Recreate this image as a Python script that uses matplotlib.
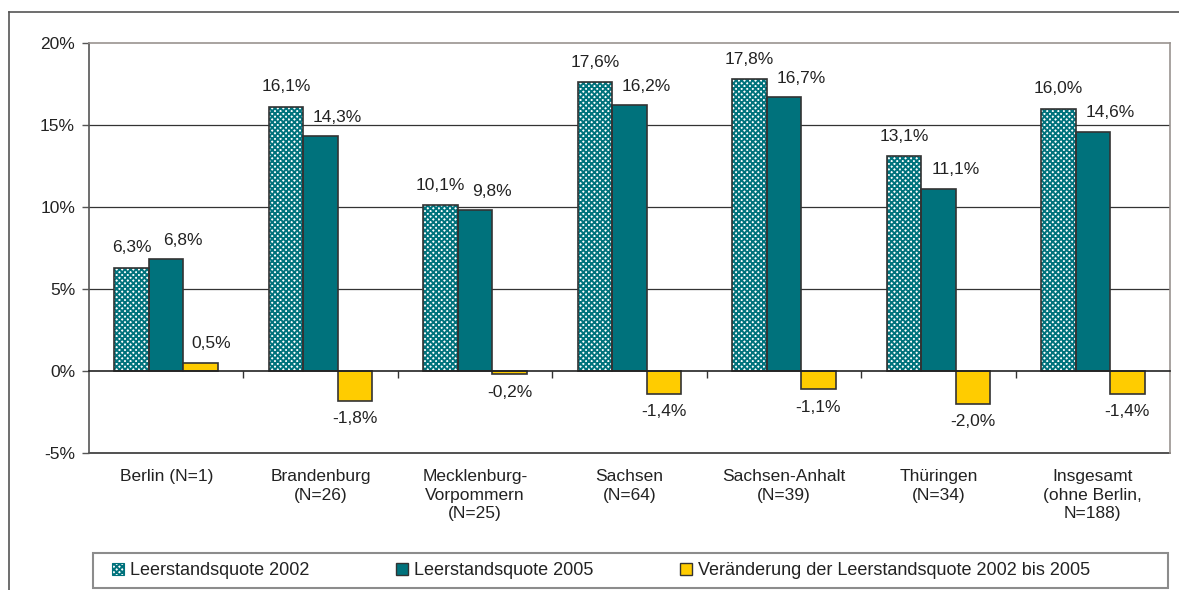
import matplotlib.pyplot as plt
import matplotlib.transforms as mtransforms
from matplotlib.lines import Line2D
from matplotlib.patches import Patch, Rectangle
import numpy as np

plt.rcParams["font.family"] = ["Liberation Sans", "DejaVu Sans"]
plt.rcParams["hatch.linewidth"] = 1.4

categories = [
    "Berlin (N=1)",
    "Brandenburg\n(N=26)",
    "Mecklenburg-\nVorpommern\n(N=25)",
    "Sachsen\n(N=64)",
    "Sachsen-Anhalt\n(N=39)",
    "Thüringen\n(N=34)",
    "Insgesamt\n(ohne Berlin,\nN=188)",
]
quote_2002 = [6.3, 16.1, 10.1, 17.6, 17.8, 13.1, 16.0]
quote_2005 = [6.8, 14.3, 9.8, 16.2, 16.7, 11.1, 14.6]
change = [0.5, -1.8, -0.2, -1.4, -1.1, -2.0, -1.4]
series_names = [
    "Leerstandsquote 2002",
    "Leerstandsquote 2005",
    "Veränderung der Leerstandsquote 2002 bis 2005",
]
yticks = [-5, 0, 5, 10, 15, 20]

teal = "#00727c"
yellow = "#ffcc00"
edge = "#333333"
text_c = "#222222"
fs = 12.5


def pct(v):
    return f"{v:.1f}%".replace(".", ",")


fig = plt.figure(figsize=(11.79, 5.9), dpi=100)
W, H = 1179, 590
ax = fig.add_axes([89 / W, 1 - 453 / H, (1170 - 89) / W, (453 - 43) / H])

x = np.arange(len(categories))
w = 0.2235

# 2002: checkered look via dense hatch
ax.bar(x - w, quote_2002, w, color="white", edgecolor=teal, hatch="xxxxxx",
       linewidth=0, zorder=3)
ax.bar(x - w, quote_2002, w, facecolor="none", edgecolor=edge, linewidth=1.2,
       zorder=4)
ax.bar(x, quote_2005, w, color=teal, edgecolor=edge, linewidth=1.2, zorder=3)
ax.bar(x + w, change, w, color=yellow, edgecolor=edge, linewidth=1.2, zorder=3)

lab = dict(textcoords="offset pixels", ha="center", va="center",
           fontsize=fs, color=text_c)
for xi, v in zip(x, quote_2002):
    ax.annotate(pct(v), (xi - w, v), xytext=(0, 20), **lab)
for xi, v in zip(x, quote_2005):
    ax.annotate(pct(v), (xi, v), xytext=(17, 19), **lab)
for xi, v in zip(x, change):
    dy = 19 if v > 0 else -18
    ax.annotate(pct(v), (xi + w, v), xytext=(10 if v > 0 else 0, dy), **lab)

ax.set_xlim(-0.5, len(categories) - 0.5)
ax.set_ylim(-5, 20)
ax.set_yticks(yticks)
ax.set_yticklabels([f"{t}%" for t in yticks], fontsize=fs, color=text_c)
ax.tick_params(axis="y", direction="out", length=5, width=1, color="#555555",
               pad=5)

for t in [5, 10, 15]:
    ax.axhline(t, color="#333333", lw=0.9, zorder=1)
ax.axhline(-5, color="#333333", lw=1.2, zorder=1, clip_on=False)

for s in ["top", "right"]:
    ax.spines[s].set_color("#9a9490")
    ax.spines[s].set_linewidth(1.2)
ax.spines["left"].set_color("#555555")
ax.spines["left"].set_linewidth(1.2)
ax.spines["bottom"].set_position(("data", 0))
ax.spines["bottom"].set_color("#222222")
ax.spines["bottom"].set_linewidth(1.2)
ax.spines["bottom"].set_zorder(5)

ax.set_xticks(x[:-1] + 0.5)
ax.set_xticklabels([])
ax.tick_params(axis="x", direction="out", length=5, width=1, color="#333333")

trans = mtransforms.blended_transform_factory(ax.transData, ax.transAxes)
for xi, c in zip(x, categories):
    ax.text(xi, 0, c,
            transform=trans + mtransforms.ScaledTranslation(0, -0.16, fig.dpi_scale_trans),
            ha="center", va="top", fontsize=fs, color=text_c, linespacing=1.3)

handles = [
    Patch(facecolor="white", edgecolor=teal, hatch="xxxxxx", linewidth=0.8),
    Patch(facecolor=teal, edgecolor=edge, linewidth=1),
    Patch(facecolor=yellow, edgecolor=edge, linewidth=1),
]
leg = fig.legend(handles, series_names, ncol=3, loc="center left",
                 bbox_to_anchor=(112 / W, 1 - 570.5 / H),
                 fontsize=13, frameon=False, borderpad=0, borderaxespad=0,
                 handlelength=0.65, handleheight=0.65, handletextpad=0.35,
                 columnspacing=4.8, labelcolor=text_c)
fig.add_artist(Rectangle((93 / W, 1 - 588 / H), (1168 - 93) / W, 35 / H,
                         transform=fig.transFigure, facecolor="none",
                         edgecolor="#8c8c8c", linewidth=1.5))

# outer frame (extends beyond the image on right and bottom)
fig.add_artist(Line2D([9 / W, 9 / W], [0, 1 - 12 / H], color="#555555", lw=1.2))
fig.add_artist(Line2D([9 / W, 1], [1 - 12 / H, 1 - 12 / H], color="#555555", lw=1.2))

fig.savefig("out.png", dpi=100)
